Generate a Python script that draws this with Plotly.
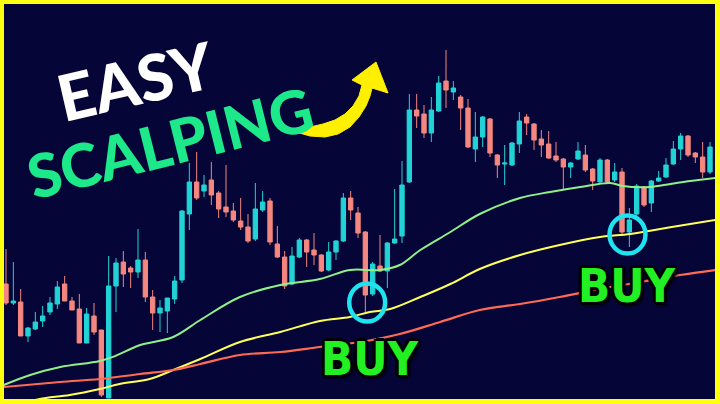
import plotly.graph_objects as go

# ---- candle data (bar index, OHLC in price units) ----
bar = list(range(1, 98))
opens = [116, 97, 98, 64, 71, 79, 88, 96, 116, 99, 91, 57, 84, 70, 2, 114, 138, 132, 128, 140,
         103, 87, 89, 101, 120, 186, 218, 209, 220, 207, 193, 189, 179, 173, 161, 190, 199, 156, 143, 116,
         143, 160, 150, 145, 130, 148, 159, 202, 187, 168, 106, 134, 129, 157, 164, 218, 290, 286, 267, 289,
         319, 308, 303, 292, 251, 263, 281, 245, 236, 235, 256, 283, 276, 261, 256, 244, 241, 233, 241, 245,
         231, 218, 240, 220, 228, 168, 186, 213, 197, 219, 223, 236, 251, 264, 247, 243, 228]
highs = [151, 138, 111, 73, 88, 94, 103, 119, 124, 103, 106, 92, 97, 70, 144, 142, 149, 134, 171, 148,
         110, 100, 102, 124, 190, 237, 248, 225, 238, 209, 235, 197, 202, 186, 217, 209, 202, 174, 149, 153,
         162, 161, 167, 146, 158, 160, 207, 209, 193, 169, 138, 165, 158, 211, 239, 306, 306, 295, 303, 324,
         350, 319, 305, 301, 288, 284, 282, 246, 255, 258, 288, 286, 277, 270, 269, 258, 242, 238, 258, 255,
         232, 242, 241, 237, 232, 192, 216, 214, 220, 229, 242, 259, 267, 265, 248, 258, 258]
lows = [95, 95, 64, 58, 70, 73, 85, 91, 99, 90, 57, 57, 65, 3, 2, 88, 113, 112, 122, 98,
        70, 68, 67, 96, 117, 170, 200, 203, 195, 182, 183, 178, 170, 157, 159, 188, 155, 142, 111, 115,
        142, 133, 135, 128, 129, 140, 158, 180, 162, 88, 104, 128, 112, 156, 157, 217, 272, 262, 258, 288,
        292, 300, 270, 252, 238, 253, 243, 222, 215, 234, 247, 265, 250, 243, 241, 238, 210, 222, 240, 228,
        210, 216, 216, 218, 166, 153, 184, 193, 188, 218, 222, 235, 240, 243, 237, 222, 226]
closes = [97, 99, 64, 72, 78, 84, 97, 113, 99, 90, 57, 86, 68, 5, 114, 137, 126, 128, 140, 103,
          87, 92, 102, 119, 189, 218, 202, 215, 205, 191, 188, 180, 173, 159, 191, 198, 158, 143, 114, 144,
          160, 148, 145, 129, 148, 159, 202, 190, 167, 105, 136, 129, 157, 161, 215, 290, 284, 267, 290, 317,
          310, 312, 292, 253, 263, 283, 247, 235, 237, 257, 279, 277, 260, 255, 242, 240, 233, 237, 249, 230,
          219, 240, 218, 228, 168, 180, 214, 195, 219, 222, 235, 251, 264, 245, 243, 228, 253]

# ---- moving averages read at sampled bar positions ----
ma_fast_x = [0.7, 4.3, 8.4, 13.8, 15.9, 19.3, 23.8, 27.5, 32.9, 38.4, 43.8, 47.9, 52.0, 54.7, 57.5,
             61.6, 65.6, 71.1, 75.2, 79.3, 83.4, 85.1, 88.8, 91.6, 94.3, 97.7]
ma_fast_y = [15, 25, 33, 39, 44, 55, 63, 80, 103, 115, 121, 130, 130, 135, 150,
             168, 186, 202, 208, 213, 217, 214, 213, 216, 219, 222]
ma_mid_x = [2.9, 5.6, 9.7, 13.8, 16.5, 20.6, 23.8, 27.5, 32.9, 38.4, 43.8, 47.9, 50.6, 53.4, 57.5,
            61.6, 65.6, 71.1, 76.5, 82.0, 86.1, 90.2, 94.3, 97.7]
ma_mid_y = [-4, 1, 5, 11, 16, 21, 30, 41, 58, 68, 79, 83, 88, 91, 103,
            116, 131, 145, 155, 163, 166, 171, 176, 180]
ma_slow_x = [0.7, 8.4, 13.8, 19.3, 23.8, 27.5, 32.9, 38.4, 43.8, 49.3, 54.7, 60.2, 65.6, 71.1, 76.5,
             82.0, 87.5, 92.9, 97.7]
ma_slow_y = [13, 18, 21, 26, 30, 36, 45, 48, 53, 58, 66, 78, 90, 96, 103,
             111, 118, 125, 130]

# signal markers (bar index, price) and labels
buy_bar = [50.25, 85.75]
buy_price = [97.5, 165.5]
title_words = ["EASY", "SCALPING"]
buy_label = "BUY"

NAVY = "#050537"
TEAL = "#22d3d6"
SALMON = "#f4877f"

fig = go.Figure()
fig.add_trace(go.Candlestick(
    x=bar, open=opens, high=highs, low=lows, close=closes,
    increasing=dict(line=dict(color=TEAL, width=1), fillcolor=TEAL),
    decreasing=dict(line=dict(color=SALMON, width=1), fillcolor=SALMON),
    whiskerwidth=0, showlegend=False, hoverinfo="skip"))
fig.add_trace(go.Scatter(x=ma_fast_x, y=ma_fast_y, mode="lines",
                         line=dict(color="#8ff08a", width=2, shape="spline"), showlegend=False))
fig.add_trace(go.Scatter(x=ma_mid_x, y=ma_mid_y, mode="lines",
                         line=dict(color="#ffff5a", width=2, shape="spline"), showlegend=False))
fig.add_trace(go.Scatter(x=ma_slow_x, y=ma_slow_y, mode="lines",
                         line=dict(color="#ff6a55", width=2.2, shape="spline"), showlegend=False))

# layout geometry helpers (pixel -> paper)
L, R, T, B = 4, 5, 4, 5
W, H = 720, 404
PW, PH = W - L - R, H - T - B


def pp(x, y):
    return (x - L) / PW, (H - B - y) / PH


shapes = []
# cyan signal circles around buy candles (data coords)
for bx, by in zip(buy_bar, buy_price):
    rx, ry = 2.45, 19
    shapes.append(dict(type="circle", xref="x", yref="y", x0=bx - rx, x1=bx + rx,
                       y0=by - ry, y1=by + ry, line=dict(color="#1fe3ef", width=4.5)))

# curved yellow arrow (decoration)
arrow_pts = [(296, 132), (310, 136), (325, 137), (338, 134), (350, 127), (359, 117), (366, 106),
             (370, 96), (372, 88), (388, 93), (376, 62), (352, 80), (362, 85), (359, 96),
             (353, 106), (345, 114), (335, 120), (323, 124), (310, 127), (298, 129)]
path = ""
for i, (ax, ay) in enumerate(arrow_pts):
    px_, py_ = pp(ax, ay)
    path += ("M" if i == 0 else "L") + f"{px_:.4f},{py_:.4f} "
path += "Z"
shapes.append(dict(type="path", xref="paper", yref="paper", path=path,
                   fillcolor="#ffef00", line=dict(color="#ffef00", width=1)))

annotations = []
ex, ey = pp(135, 80)
annotations.append(dict(x=ex, y=ey, xref="paper", yref="paper", text=title_words[0], showarrow=False,
                        textangle=-13, xanchor="center", yanchor="middle",
                        font=dict(family="Lato", size=64, color="#ffffff", weight=900)))
sx, sy = pp(170, 142)
annotations.append(dict(x=sx, y=sy, xref="paper", yref="paper", text=title_words[1], showarrow=False,
                        textangle=-14, xanchor="center", yanchor="middle",
                        font=dict(family="Lato", size=60, color="#1de98b", weight=900)))
outline = ("-2px -2px 0 #000, 2px -2px 0 #000, -2px 2px 0 #000, 2px 2px 0 #000, "
           "0 3px 0 #000, 3px 0 0 #000, -3px 0 0 #000, 0 -3px 0 #000, 3px 3px 3px #000")
for (bx, by) in [(370, 358), (627, 285)]:
    ax_, ay_ = pp(bx, by)
    annotations.append(dict(x=ax_, y=ay_, xref="paper", yref="paper", text=buy_label, showarrow=False,
                            xanchor="center", yanchor="middle",
                            font=dict(family="DejaVu Sans Condensed, sans-serif",
                                      size=47, color="#22f022", weight="bold", shadow=outline)))

fig.update_layout(
    width=W, height=H,
    margin=dict(l=L, r=R, t=T, b=B),
    paper_bgcolor="#ffff10", plot_bgcolor=NAVY,
    xaxis=dict(range=[0.727, 97.68], visible=False, rangeslider=dict(visible=False), fixedrange=True),
    yaxis=dict(range=[1, 396], visible=False, fixedrange=True),
    boxgap=0.15,
    shapes=shapes, annotations=annotations,
    showlegend=False,
)
fig.write_html("out.html", config={"displayModeBar": False},
               post_script="document.body.style.margin='0';document.body.style.overflow='hidden';")
